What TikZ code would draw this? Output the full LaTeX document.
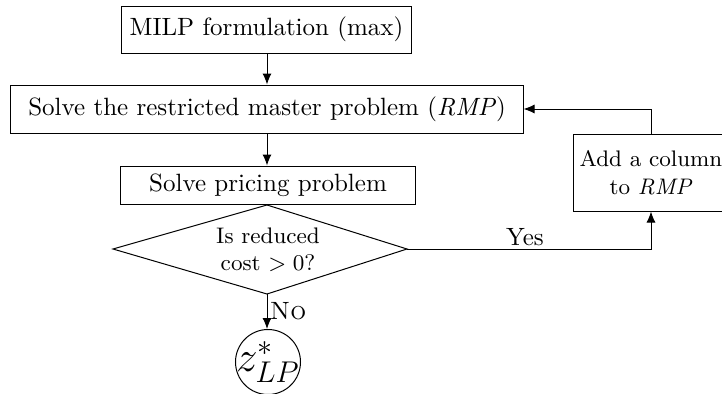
\documentclass[tikz,border=0pt]{standalone}
\usetikzlibrary{arrows.meta,shapes.geometric}
\begin{document}
\begin{tikzpicture}[x=0.4pt,y=-0.4pt,
  box/.style={draw,rectangle,inner sep=0pt,align=center},
  arr/.style={-{Latex[length=4.4pt,width=3.6pt]}},
  lbl/.style={inner sep=1pt}]
\useasboundingbox (0,0) rectangle (722,394);
\node[box,minimum width=115.6pt,minimum height=18.8pt] (milp) at (266.5,29.5) {MILP formulation (max)};
\node[box,minimum width=204.8pt,minimum height=19.2pt] (rmp) at (267,109) {Solve the restricted master problem (\textit{RMP})};
\node[box,minimum width=117.6pt,minimum height=15.2pt] (pric) at (268,185) {Solve pricing problem};
\coordinate (dt) at (267,205);
\coordinate (dr) at (407,249);
\coordinate (db) at (267,294);
\coordinate (dl) at (113,249);
\draw (dt) -- (dr) -- (db) -- (dl) -- cycle;
\node[align=center,font=\small,inner sep=0pt] (dec) at (268,250) {Is reduced\\cost $>0$?};
\node[box,font=\small,minimum width=61.6pt,minimum height=30.8pt] (add) at (651,172.5) {Add a column\\to \textit{RMP}};
\node[draw,circle,inner sep=-6pt,minimum size=26pt,font=\LARGE] (z) at (268,362) {$z^*_{LP}$};
\coordinate (yc) at (651,249);
\coordinate (rc) at (651,109);
\draw[arr] (milp.south -| dt) -- (rmp.north -| dt);
\draw[arr] (rmp.south -| dt) -- (pric.north -| dt);
\draw[arr] (db) -- (z.north -| db) node[lbl,midway,anchor=west] {\textsc{No}};
\draw[arr] (dr) -- (yc) -- (add.south);
\node[lbl,anchor=south] (yes) at (525,249) {Yes};
\draw[arr] (add.north) -- (rc) -- (rmp.east);
\end{tikzpicture}
\end{document}
